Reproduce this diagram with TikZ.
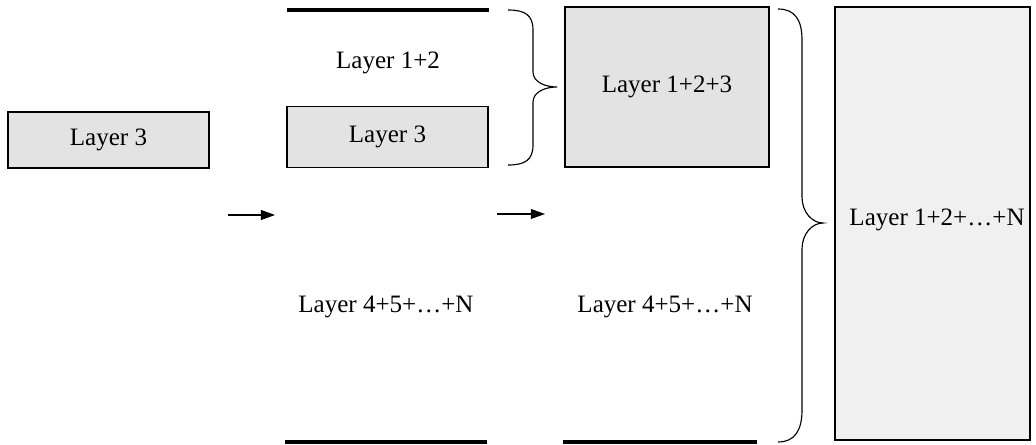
\documentclass[tikz,border=0pt]{standalone}
\usepackage{fontspec}
\setmainfont{Liberation Serif}
\usetikzlibrary{calc,positioning,arrows.meta}
\tikzset{
  txt/.style={inner sep=0pt,font=\fontsize{17.8}{20}\selectfont},
  layer/.style={txt,draw,line width=1pt,fill=black!11},
  sheet/.style={line width=2.3pt},
  brc/.style={line width=0.8pt},
  step arrow/.style={line width=0.75pt,-{Triangle[length=10pt,width=7pt]}}
}
\begin{document}
\begin{tikzpicture}[x=0.025cm,y=-0.025cm]
\useasboundingbox (0,0) rectangle (1036,445);
\node[layer,minimum width=201*0.025cm,minimum height=56*0.025cm] (l3a) at (108.5,140) {Layer 3};
\coordinate (a1s) at (228,215);
\coordinate (a1e) at (275,215);
\draw[step arrow] (a1s) -- (a1e);
\draw[sheet] (287,10) -- (489,10);
\node[txt] (l12) at (388,63) {Layer 1+2};
\node[layer,minimum width=201*0.025cm,minimum height=61*0.025cm] (l3b) at (387.5,137) {Layer 3};
\node[txt] (l4a) at (386,307) {Layer 4+5+\ldots+N};
\draw[sheet] (285,442) -- (487,442);
\coordinate (b1t) at (508,10);
\coordinate (b1m) at (557,87);
\coordinate (b1b) at (508,165);
\draw[brc] (b1t) .. controls (525,10) and (533,15) .. (533,30) -- (533,72)
  .. controls (533,82) and (545,87) .. (b1m)
  .. controls (545,87) and (533,92) .. (533,102) -- (533,145)
  .. controls (533,160) and (525,165) .. (b1b);
\node[layer,minimum width=204*0.025cm,minimum height=160*0.025cm] (l123) at (667,87) {Layer 1+2+3};
\coordinate (a2s) at (497,214);
\coordinate (a2e) at (545,214);
\draw[step arrow] (a2s) -- (a2e);
\node[txt] (l4b) at (665,307) {Layer 4+5+\ldots+N};
\draw[sheet] (563,442) -- (757,442);
\coordinate (b2t) at (778,9);
\coordinate (b2m) at (823,223);
\coordinate (b2b) at (778,442);
\draw[brc] (b2t) .. controls (795,9) and (802,20) .. (802,40) -- (802,197)
  .. controls (802,212) and (812,223) .. (b2m)
  .. controls (812,223) and (802,234) .. (802,249) -- (802,410)
  .. controls (802,430) and (795,442) .. (b2b);
\node[layer,fill=black!6,minimum width=195*0.025cm,minimum height=433*0.025cm] (lall) at (932.5,223.5) {};
\node[txt] (lallt) at (937,220) {Layer 1+2+\ldots+N};
\end{tikzpicture}
\end{document}
